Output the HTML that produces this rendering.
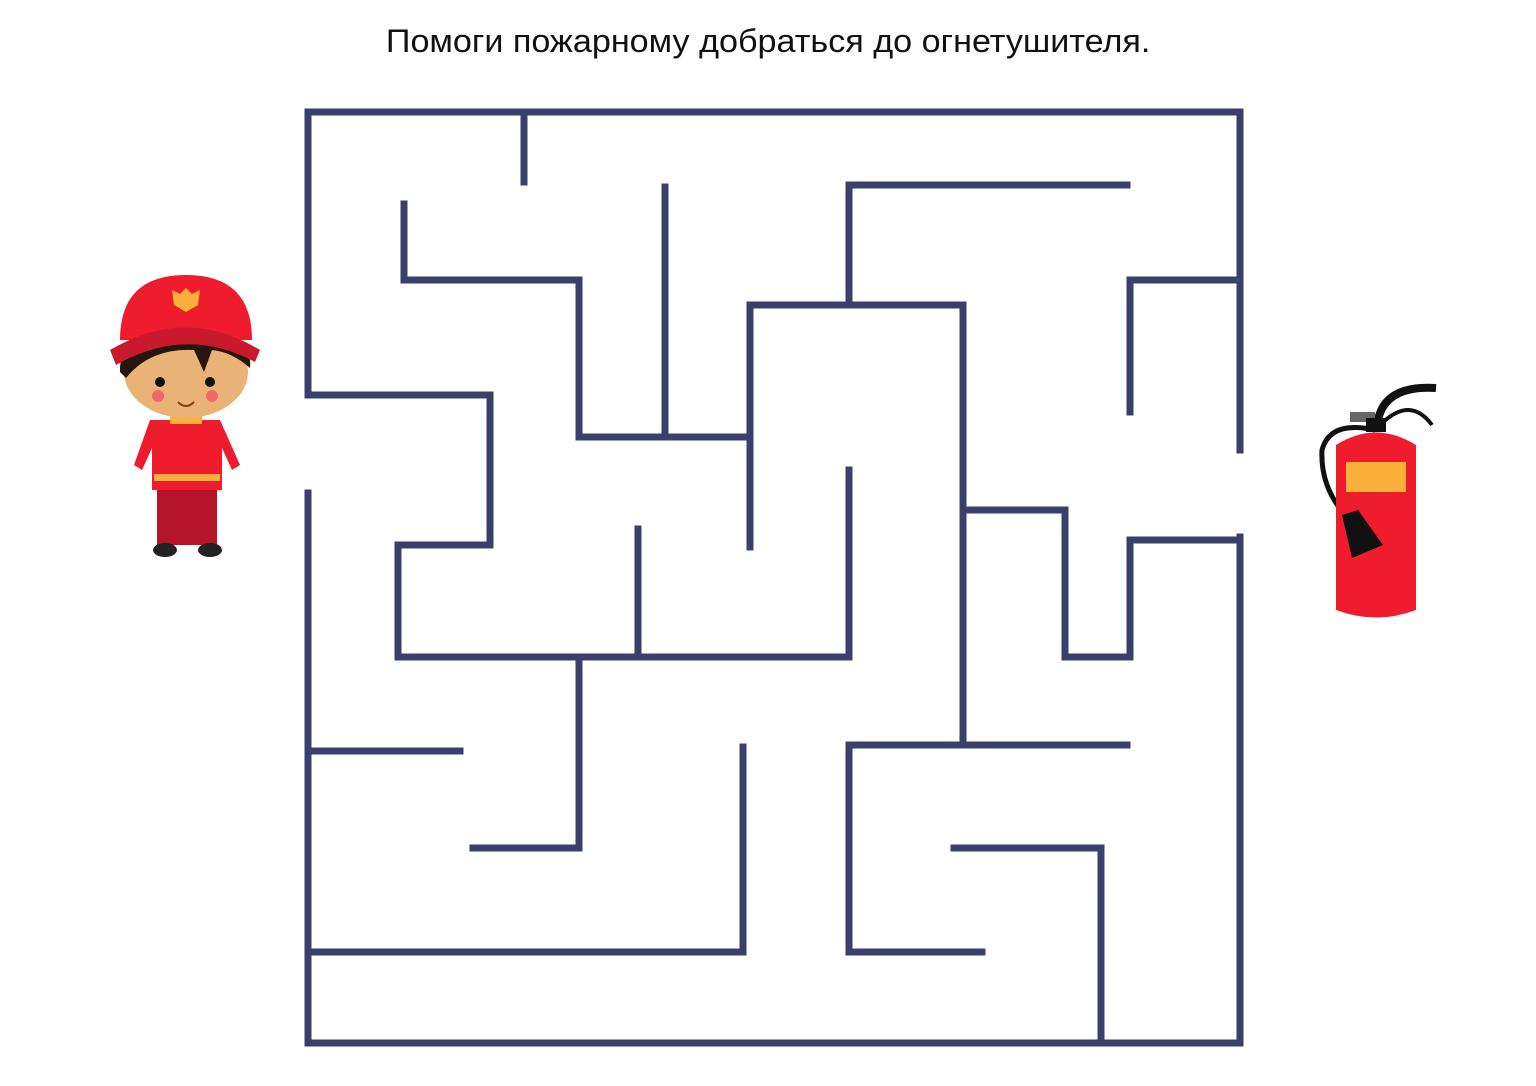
<!DOCTYPE html>
<html><head><meta charset="utf-8"><style>
html,body{margin:0;padding:0;background:#fff;}
body{width:1536px;height:1086px;overflow:hidden;position:relative;}
#title{position:absolute;left:0;top:23px;width:1536px;text-align:center;font-family:"Liberation Sans","DejaVu Sans",sans-serif;font-size:32px;color:#111;transform:scaleX(1.067);transform-origin:766px 0;}
svg{position:absolute;left:0;top:0;}
</style></head><body>
<div id="title">Помоги пожарному добраться до огнетушителя.</div>
<svg width="1536" height="1086">
<g id="maze" stroke="#3b3f6b" stroke-width="7" fill="none" stroke-linecap="square"></g>
<g>
  <rect x="157" y="480" width="30" height="65" fill="#b5142a"/>
  <rect x="187" y="480" width="30" height="65" fill="#b5142a"/>
  <ellipse cx="165" cy="550" rx="12" ry="7" fill="#222"/>
  <ellipse cx="210" cy="550" rx="12" ry="7" fill="#222"/>
  <path d="M150 420 L220 420 L240 465 L232 470 L222 448 L222 490 L152 490 L152 448 L142 470 L134 465 Z" fill="#ee1c2d"/>
  <rect x="154" y="474" width="66" height="7" fill="#fbb03b"/>
  <rect x="170" y="414" width="32" height="10" fill="#fbb03b"/>
  <ellipse cx="186" cy="372" rx="62" ry="46" fill="#e9b277"/>
  <path d="M120 372 Q118 330 186 325 Q254 330 250 368 Q232 352 212 350 L204 372 L194 350 Q150 348 126 378 Z" fill="#26160d"/>
  <path d="M120 340 Q120 275 186 275 Q252 275 252 340 Z" fill="#ee1c2d"/>
  <path d="M110 350 Q186 305 260 350 L255 362 Q186 325 116 365 Z" fill="#c81a2c"/>
  <path d="M172 290 L180 294 L186 288 L192 294 L200 290 L198 305 L186 312 L174 305 Z" fill="#fbb03b"/>
  <circle cx="160" cy="382" r="5" fill="#111"/><circle cx="210" cy="382" r="5" fill="#111"/>
  <circle cx="158" cy="396" r="6" fill="#f06868"/><circle cx="212" cy="396" r="6" fill="#f06868"/>
  <path d="M178 402 Q186 410 194 402" stroke="#8a3b1a" stroke-width="2" fill="none"/>
</g>
<g>
  <path d="M1375 430 Q1330 420 1322 450 Q1320 490 1350 520" stroke="#111" stroke-width="5" fill="none"/>
  <path d="M1378 420 Q1385 385 1436 388" stroke="#111" stroke-width="8" fill="none"/>
  <path d="M1380 425 Q1410 395 1432 425" stroke="#111" stroke-width="4" fill="none"/>
  <rect x="1350" y="412" width="25" height="10" fill="#666"/>
  <rect x="1366" y="418" width="20" height="14" fill="#111"/>
  <path d="M1336 445 Q1376 420 1416 445 L1416 610 Q1376 625 1336 610 Z" fill="#ee1c2d"/>
  <rect x="1346" y="462" width="60" height="30" fill="#fbb03b"/>
  <path d="M1342 515 L1358 510 L1383 545 L1352 558 Z" fill="#111"/>
</g>
</svg>
<script>
// maze wall segments: [x1,y1,x2,y2]
const walls = [
 [308,112,1240,112],[308,112,308,395],[308,493,308,1043],[308,1043,1240,1043],[1240,112,1240,450],[1240,537,1240,1043],
 [524,112,524,182],
 [404,204,404,280],[404,280,579,280],[579,280,579,437],[579,437,750,437],
 [665,187,665,437],
 [750,305,750,547],[750,305,963,305],[963,305,963,745],
 [849,185,849,305],[849,185,1127,185],
 [1130,280,1240,280],[1130,280,1130,412],
 [308,395,490,395],[490,395,490,545],[398,545,490,545],[398,545,398,657],[398,657,849,657],[849,470,849,657],
 [638,529,638,657],
 [963,510,1065,510],[1065,510,1065,657],[1065,657,1130,657],[1130,540,1130,657],[1130,540,1240,540],
 [579,657,579,848],[473,848,579,848],
 [308,751,460,751],
 [743,747,743,952],[308,952,743,952],
 [849,745,1127,745],[849,745,849,952],[849,952,982,952],
 [954,848,1101,848],[1101,848,1101,1043]
];
const g = document.getElementById('maze');
walls.forEach(w => {
  const l = document.createElementNS('http://www.w3.org/2000/svg','line');
  l.setAttribute('x1', w[0]); l.setAttribute('y1', w[1]);
  l.setAttribute('x2', w[2]); l.setAttribute('y2', w[3]);
  
  
  g.appendChild(l);
});
</script>
</body></html>
